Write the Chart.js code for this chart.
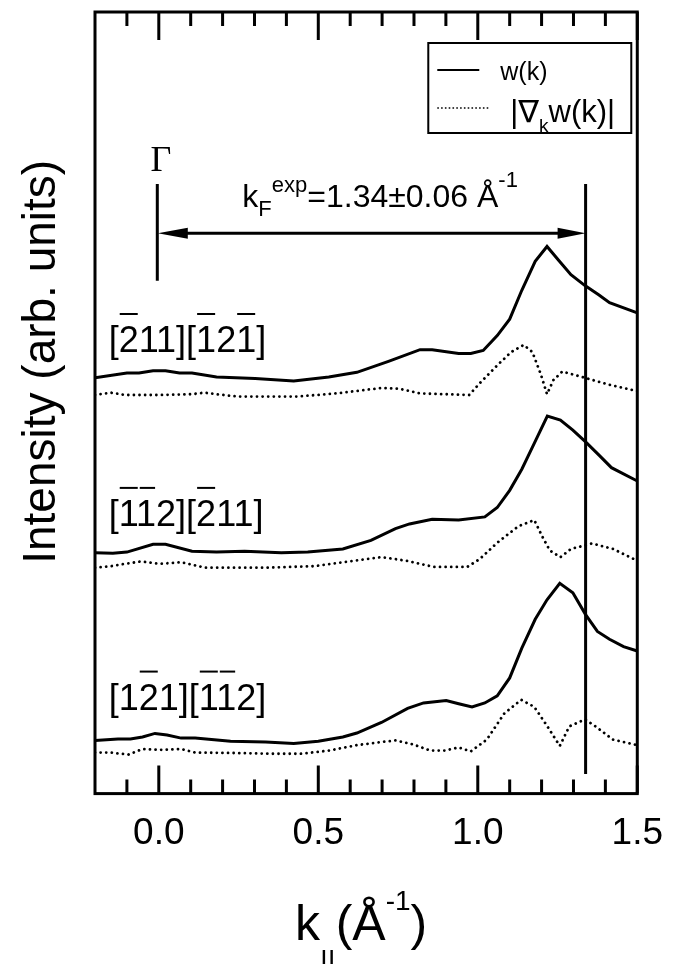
<!DOCTYPE html>
<html>
<head>
<meta charset="utf-8">
<script src="https://cdn.jsdelivr.net/npm/chart.js@4.4.1/dist/chart.umd.min.js"></script>
<style>
  html, body { margin: 0; padding: 0; background: #fff; }
  canvas { display: block; }
</style>
</head>
<body>
<canvas id="myChart" width="681" height="964"></canvas>
<script>
// ---- data (k in 1/Å, intensity in arbitrary units) ----
// top pair: [-211][-12-1]
const kW1 = [-0.2, -0.100, -0.062, -0.018, 0.021, 0.065, 0.104, 0.181, 0.302, 0.423, 0.533, 0.621, 0.720, 0.819, 0.857, 0.940, 0.978, 1.017, 1.061, 1.100, 1.138, 1.180, 1.217, 1.254, 1.292, 1.336, 1.380, 1.413, 1.5];
const w1  = [53.2, 53.8, 53.8, 54.1, 54.1, 53.8, 53.8, 53.3, 53.1, 52.8, 53.3, 53.9, 55.3, 56.8, 56.8, 56.3, 56.3, 56.7, 58.6, 60.7, 64.4, 68.1, 70.0, 68.2, 66.4, 65.0, 63.8, 62.8, 61.5];
const kG1 = [-0.2, -0.150, -0.106, 0.004, 0.104, 0.142, 0.181, 0.247, 0.434, 0.555, 0.698, 0.753, 0.819, 0.973, 1.006, 1.061, 1.105, 1.144, 1.171, 1.198, 1.217, 1.237, 1.265, 1.336, 1.413, 1.5];
const g1  = [51.0, 51.3, 51.0, 51.0, 51.1, 51.3, 51.1, 50.8, 50.8, 51.2, 51.9, 51.8, 51.2, 51.0, 52.5, 54.8, 56.5, 57.4, 56.5, 53.6, 51.1, 52.9, 54.0, 53.2, 52.3, 51.5];

// middle pair: [--112][-211]
const kW2 = [-0.2, -0.144, -0.100, -0.018, 0.021, 0.104, 0.181, 0.269, 0.384, 0.467, 0.577, 0.665, 0.742, 0.786, 0.857, 0.940, 1.022, 1.061, 1.100, 1.138, 1.177, 1.218, 1.259, 1.298, 1.338, 1.380, 1.419, 1.5];
const w2  = [30.8, 30.75, 30.9, 31.9, 31.9, 31.0, 30.9, 31.0, 30.8, 30.9, 31.3, 32.4, 33.9, 34.5, 35.1, 35.0, 35.4, 36.6, 38.8, 41.5, 44.8, 48.3, 47.8, 46.5, 45.0, 43.3, 41.7, 40.0];
const kG2 = [-0.2, -0.150, -0.106, -0.056, 0.004, 0.070, 0.147, 0.335, 0.489, 0.577, 0.698, 0.775, 0.863, 0.967, 1.006, 1.061, 1.127, 1.177, 1.204, 1.226, 1.259, 1.292, 1.358, 1.424, 1.5];
const g2  = [28.9, 29.1, 29.4, 29.7, 29.4, 29.6, 28.9, 28.9, 29.1, 29.6, 30.25, 29.8, 29.0, 29.0, 30.0, 32.1, 34.2, 35.0, 32.75, 31.1, 30.25, 31.3, 32.0, 31.3, 29.8];

// bottom pair: [1-21][--112]
const kW3 = [-0.2, -0.128, -0.089, -0.051, -0.012, 0.026, 0.070, 0.114, 0.225, 0.335, 0.423, 0.500, 0.577, 0.621, 0.698, 0.780, 0.830, 0.901, 0.940, 0.982, 1.022, 1.061, 1.100, 1.138, 1.180, 1.217, 1.257, 1.298, 1.338, 1.375, 1.413, 1.457, 1.5];
const w3  = [6.8, 7.0, 7.0, 7.25, 7.7, 7.5, 7.1, 7.1, 6.7, 6.6, 6.4, 6.7, 7.25, 7.75, 9.1, 10.9, 11.6, 11.9, 11.5, 11.1, 11.6, 12.5, 14.8, 18.6, 22.3, 24.8, 26.9, 25.7, 22.9, 20.75, 19.75, 18.8, 18.25];
const kG3 = [-0.2, -0.150, -0.095, -0.051, 0.004, 0.070, 0.114, 0.225, 0.357, 0.445, 0.533, 0.621, 0.698, 0.742, 0.797, 0.852, 0.896, 0.940, 0.978, 1.028, 1.083, 1.136, 1.177, 1.215, 1.257, 1.287, 1.336, 1.369, 1.424, 1.5];
const g3  = [5.25, 5.25, 5.0, 5.7, 5.6, 5.7, 5.25, 5.2, 5.1, 5.1, 5.5, 6.2, 6.6, 6.8, 6.3, 5.5, 5.5, 5.9, 5.4, 6.9, 10.25, 12.0, 11.1, 8.8, 6.1, 8.6, 9.5, 8.6, 6.9, 6.2];

const kMajor = [0.0, 0.5, 1.0, 1.5];
const kMinor = [-0.1, 0.1, 0.2, 0.3, 0.4, 0.6, 0.7, 0.8, 0.9, 1.1, 1.2, 1.3, 1.4];

// direction labels, the indexes of characters carrying an overbar, and label baselines
const dirLabels = ['[211][121]', '[112][211]', '[121][112]'];
const dirBars = [[1, 6, 8], [1, 2, 6], [2, 6, 7]];
const dirY = [56.5, 34.25, 10.75];

const kF = 1.338;          // k_F marker
const seriesNames = ['w(k)', '|\u2207kw(k)|'];

const FONT = "'Liberation Sans', Arial, 'DejaVu Sans', sans-serif";

const zip = (xs, ys) => xs.map((x, i) => ({ x: x, y: ys[i] }));

const solid = (label, data) => ({
    label: label, data: data, borderColor: '#000', borderWidth: 3,
    pointRadius: 0, tension: 0, fill: false
});
// round dots
const dotted = (label, data) => ({
    label: label, data: data, borderColor: '#000', borderWidth: 2.8,
    borderDash: [0.01, 5.6], borderCapStyle: 'round',
    pointRadius: 0, tension: 0, fill: false
});

// draw a run of text pieces [text, size, dy] one after another
function rich(ctx, parts, x, y, align) {
    let w = 0;
    parts.forEach(p => { ctx.font = p[1] + 'px ' + FONT; w += ctx.measureText(p[0]).width; });
    let cx = align === 'center' ? x - w / 2 : x;
    ctx.textAlign = 'left';
    ctx.textBaseline = 'alphabetic';
    parts.forEach(p => {
        ctx.font = p[1] + 'px ' + FONT;
        ctx.fillText(p[0], cx, y + p[2]);
        cx += ctx.measureText(p[0]).width;
    });
}

const decor = {
    id: 'decor',
    afterDraw(chart) {
        const ctx = chart.ctx;
        const a = chart.chartArea;
        const xs = chart.scales.x, ys = chart.scales.y;
        ctx.save();
        ctx.strokeStyle = '#000';
        ctx.fillStyle = '#000';
        ctx.setLineDash([]);
        ctx.lineCap = 'butt';

        // frame
        ctx.lineWidth = 3;
        ctx.strokeRect(a.left, a.top, a.right - a.left, a.bottom - a.top);

        // inward ticks top and bottom
        ctx.beginPath();
        kMinor.forEach(v => {
            const px = xs.getPixelForValue(v);
            ctx.moveTo(px, a.bottom); ctx.lineTo(px, a.bottom - 14);
            ctx.moveTo(px, a.top); ctx.lineTo(px, a.top + 14);
        });
        kMajor.forEach(v => {
            const px = xs.getPixelForValue(v);
            ctx.moveTo(px, a.bottom); ctx.lineTo(px, a.bottom - 28);
            ctx.moveTo(px, a.top); ctx.lineTo(px, a.top + 28);
        });
        ctx.stroke();

        // Gamma and k_F markers
        const x0 = xs.getPixelForValue(0);
        const xF = xs.getPixelForValue(kF);
        ctx.beginPath();
        ctx.moveTo(x0 - 1.5, ys.getPixelForValue(78)); ctx.lineTo(x0 - 1.5, ys.getPixelForValue(65.6));
        ctx.moveTo(xF, ys.getPixelForValue(78)); ctx.lineTo(xF, ys.getPixelForValue(2.5));
        ctx.stroke();

        // double arrow
        const ay = ys.getPixelForValue(71.7);
        ctx.beginPath();
        ctx.moveTo(x0 + 20, ay); ctx.lineTo(xF - 20, ay);
        ctx.stroke();
        ctx.beginPath();
        ctx.moveTo(x0 - 1, ay); ctx.lineTo(x0 + 29, ay - 5.5); ctx.lineTo(x0 + 29, ay + 5.5); ctx.closePath();
        ctx.moveTo(xF, ay); ctx.lineTo(xF - 28, ay - 5.5); ctx.lineTo(xF - 28, ay + 5.5); ctx.closePath();
        ctx.fill();

        // Gamma
        ctx.font = "36px 'Liberation Serif', 'Times New Roman', serif";
        ctx.textAlign = 'center';
        ctx.textBaseline = 'alphabetic';
        ctx.fillText('\u0393', x0 + 2, ys.getPixelForValue(79.6));

        // k_F^exp annotation
        rich(ctx, [['k', 32, 0], ['F', 22, 9], ['exp', 22, -15], ['=1.34\u00b10.06 \u00c5', 32, 0], ['-1', 22, -20]],
            xs.getPixelForValue(0.262), ys.getPixelForValue(75.0), 'left');

        // direction labels with overbars
        ctx.lineWidth = 2;
        dirLabels.forEach((t, i) => {
            const bx = xs.getPixelForValue(-0.157);
            const by = ys.getPixelForValue(dirY[i]);
            ctx.font = '36px ' + FONT;
            ctx.textAlign = 'left';
            ctx.textBaseline = 'alphabetic';
            ctx.fillText(t, bx, by);
            dirBars[i].forEach(j => {
                const x1 = bx + ctx.measureText(t.slice(0, j)).width;
                const x2 = bx + ctx.measureText(t.slice(0, j + 1)).width;
                ctx.beginPath();
                ctx.moveTo(x1 + 1, by - 38); ctx.lineTo(x2 - 1, by - 38);
                ctx.stroke();
            });
        });

        // legend
        const lx = a.right - 209, ly = a.top + 31, lw = 203, lh = 90;
        ctx.lineWidth = 2;
        ctx.strokeRect(lx, ly, lw, lh);
        ctx.beginPath();
        ctx.moveTo(lx + 9, ly + 27); ctx.lineTo(lx + 51, ly + 27);
        ctx.stroke();
        ctx.lineWidth = 1.6;
        ctx.setLineDash([1.6, 2.2]);
        ctx.beginPath();
        ctx.moveTo(lx + 9, ly + 65); ctx.lineTo(lx + 62, ly + 65);
        ctx.stroke();
        ctx.setLineDash([]);
        rich(ctx, [[seriesNames[0], 25, 0]], lx + 72, ly + 37, 'left');
        rich(ctx, [['|\u2207', 31, 0], ['k', 19, 10], ['w(k)|', 31, 0]], lx + 82, ly + 79, 'left');

        // axis titles
        rich(ctx, [['k', 50, 0], ['||', 30, 32], ['(\u00c5', 50, 0], ['-1', 28, -30], [')', 50, 0]],
            (a.left + a.right) / 2 - 5, 940, 'center');
        ctx.save();
        ctx.translate(42, (a.top + a.bottom) / 2 - 41);
        ctx.rotate(-Math.PI / 2);
        ctx.font = '46px ' + FONT;
        ctx.textAlign = 'center';
        ctx.textBaseline = 'middle';
        ctx.fillText('Intensity (arb. units)', 0, 0);
        ctx.restore();

        ctx.restore();
    }
};

new Chart(document.getElementById('myChart').getContext('2d'), {
    type: 'line',
    data: {
        datasets: [
            solid(seriesNames[0], zip(kW1, w1)),
            dotted(seriesNames[1], zip(kG1, g1)),
            solid(seriesNames[0], zip(kW2, w2)),
            dotted(seriesNames[1], zip(kG2, g2)),
            solid(seriesNames[0], zip(kW3, w3)),
            dotted(seriesNames[1], zip(kG3, g3))
        ]
    },
    options: {
        responsive: false,
        animation: false,
        devicePixelRatio: 1,
        layout: { padding: { left: 95, right: 34, top: 12, bottom: 90 } },
        plugins: { legend: { display: false }, tooltip: { enabled: false } },
        scales: {
            x: {
                type: 'linear', min: -0.2, max: 1.5,
                afterBuildTicks: s => { s.ticks = kMajor.map(v => ({ value: v })); },
                ticks: {
                    callback: v => v.toFixed(1),
                    font: { family: FONT, size: 37 }, color: '#000',
                    padding: 18, maxRotation: 0, autoSkip: false
                },
                grid: { display: false, drawTicks: false },
                border: { display: false }
            },
            y: { display: false, min: 0, max: 100 }
        }
    },
    plugins: [decor]
});
</script>
</body>
</html>
